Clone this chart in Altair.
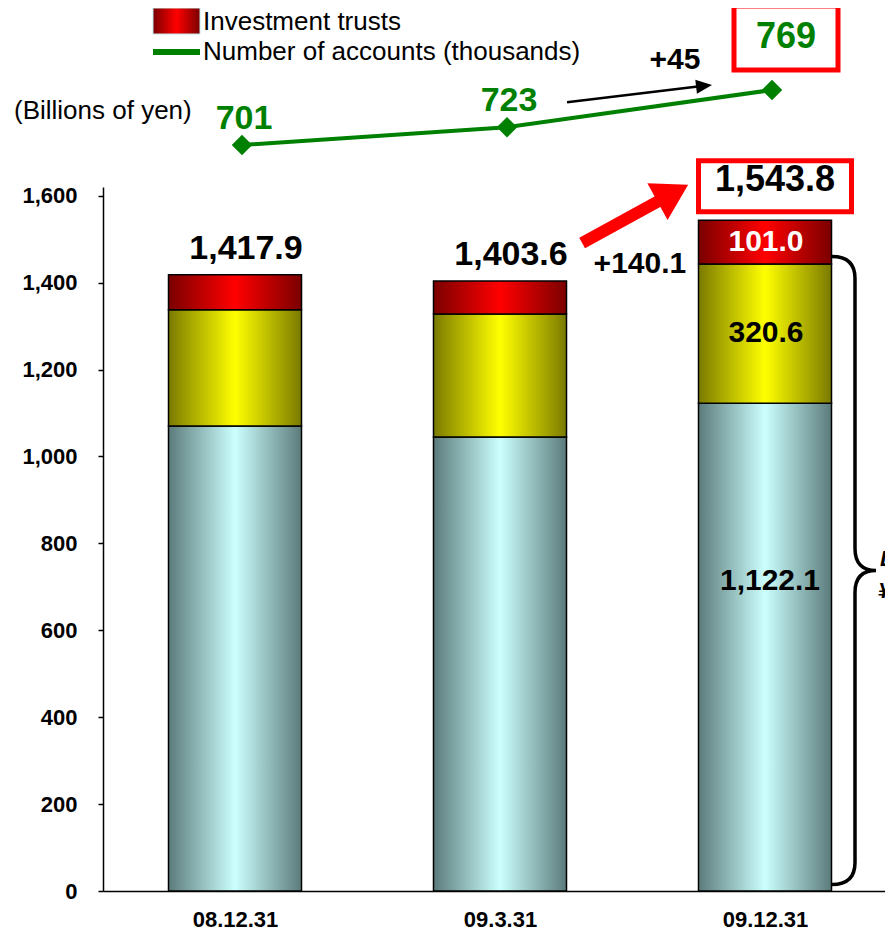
import math
import json
import altair as alt
import pandas as pd

# ---------------- data ----------------
dates = ["08.12.31", "09.3.31", "09.12.31"]
yen_deposits = [1070.0, 1045.0, 1122.1]        # light blue segment
fx_deposits = [267.5, 283.0, 320.6]            # yellow segment
investment_trusts = [80.4, 75.6, 101.0]        # red segment
total_labels = ["1,417.9", "1,403.6", "1,543.8"]
accounts = [701, 723, 769]
account_labels = ["701", "723", "769"]
segment_labels = ["1,122.1", "320.6", "101.0"]
legend_labels = ["Investment trusts", "Number of accounts (thousands)"]
unit_label = "(Billions of yen)"
delta_total = "+140.1"
delta_accounts = "+45"
brace_labels = ["Deposits", "¥1,442.7 billion"]

# annotation anchors (category index, value in billions of yen)
red_arrow_i = [1.31, 1.71]
red_arrow_v = [1491.0, 1625.0]
black_arrow_i = [1.253, 1.80]
black_arrow_v = [1815.0, 1855.0]
delta_total_pos = (1.528, 1442.0)
delta_acc_pos = (1.66, 1912.0)
brace_span = (15.0, 1460.0)

# ---------------- layout ----------------
FONT = "Liberation Sans"
W, H = 782, 704
YMAX = 1620
STEP = 265
X0 = 132
XD = [-X0 / STEP, (W - X0) / STEP]
KY = H / YMAX
ACC_D = [-221.3, 649.07]
GREEN = "#008000"

xaxis = alt.Axis(values=[0, 1, 2], labelExpr=f"{json.dumps(dates)}[datum.value]",
                 ticks=False, grid=False, domainColor="black", domainWidth=1.5,
                 labelFont=FONT, labelFontSize=22, labelFontWeight="bold",
                 labelColor="black", labelPadding=18, labelFlush=False,
                 labelOverlap=False, title=None)
yaxis = alt.Axis(values=list(range(0, 1601, 200)), format=",d", grid=False,
                 ticks=True, tickSize=5, tickColor="black", tickWidth=1.5,
                 domainColor="black", domainWidth=1.5, labelFont=FONT,
                 labelFontSize=22, labelFontWeight="bold", labelColor="black",
                 labelPadding=21, labelFlush=False, title=None)
XS = alt.Scale(domain=XD, nice=False, zero=False, padding=0)
YS = alt.Scale(domain=[0, YMAX], nice=False, zero=False)
AS = alt.Scale(domain=ACC_D, nice=False, zero=False)


def X(f="i"):
    return alt.X(f"{f}:Q", scale=XS, axis=xaxis)


def Y(f):
    return alt.Y(f"{f}:Q", scale=YS, axis=yaxis)


def YA(f):
    return alt.Y(f"{f}:Q", scale=AS, axis=None)


def grad(dark, light):
    return alt.Gradient(gradient="linear", x1=0, x2=1, y1=0, y2=0,
                        stops=[alt.GradientStop(color=dark, offset=0),
                               alt.GradientStop(color=light, offset=0.5),
                               alt.GradientStop(color=dark, offset=1)])


CYAN = grad("#5c7b7b", "#ccffff")
YEL = grad("#7a7a00", "#ffff00")
RED = grad("#7a0000", "#ff0000")

c1 = yen_deposits
c2 = [a + b for a, b in zip(yen_deposits, fx_deposits)]
c3 = [a + b for a, b in zip(c2, investment_trusts)]
df = pd.DataFrame({"i": [0, 1, 2], "date": dates, "z": [0, 0, 0],
                   "c1": c1, "c2": c2, "c3": c3, "tot": total_labels})


def seg(lo, hi, fill):
    return alt.Chart(df).mark_bar(width=133, fill=fill, stroke="black",
                                  strokeWidth=1.5).encode(
        x=X(), y=Y(lo), y2=alt.Y2(hi))


bars = [seg("z", "c1", CYAN), seg("c1", "c2", YEL), seg("c2", "c3", RED)]

tot_text = alt.Chart(df[df.i < 2]).mark_text(
    font=FONT, fontSize=34, fontWeight="bold", color="black", dx=11, dy=-26,
    baseline="middle").encode(x=X(), y=Y("c3"), text="tot:N")

last = df[df.i == 2]
tot_box_text = alt.Chart(last).mark_text(
    font=FONT, fontSize=36, fontWeight="bold", color="black", dx=10, dy=-40,
    baseline="middle").encode(x=X(), y=Y("c3"), text="tot:N")
tot_box = alt.Chart(last).mark_point(
    shape="M-1,-0.3333H1V0.3333H-1Z", size=153 ** 2, filled=False,
    stroke="red", strokeWidth=5, opacity=1, xOffset=10, yOffset=-34).encode(
    x=X(), y=Y("c3"))

seg_df = pd.DataFrame({
    "i": [2, 2, 2],
    "mid": [c1[2] / 2, (c1[2] + c2[2]) / 2, (c2[2] + c3[2]) / 2],
    "lab": segment_labels,
})
seg_red = alt.Chart(seg_df.iloc[[2]]).mark_text(
    font=FONT, fontSize=30, fontWeight="bold", color="white", dx=1,
    baseline="middle").encode(x=X(), y=Y("mid"), text="lab:N")
seg_yel = alt.Chart(seg_df.iloc[[1]]).mark_text(
    font=FONT, fontSize=30, fontWeight="bold", color="black", dx=1, dy=-1,
    baseline="middle").encode(x=X(), y=Y("mid"), text="lab:N")
seg_cyan = alt.Chart(seg_df.iloc[[0]]).mark_text(
    font=FONT, fontSize=30, fontWeight="bold", color="black", dx=5, dy=-66,
    baseline="middle").encode(x=X(), y=Y("mid"), text="lab:N")


# ---- arrows ----
def arrow(ii, vv, color, width, back, head_path, head_size):
    dxp = (ii[1] - ii[0]) * STEP
    dyp = -(vv[1] - vv[0]) * KY
    L = math.hypot(dxp, dyp)
    ux, uy = dxp / L, dyp / L
    end_i = ii[1] - ux * back / STEP
    end_v = vv[1] + uy * back / KY
    ang = math.degrees(math.atan2(dyp, dxp)) % 360
    shaft_df = pd.DataFrame({"i": [ii[0], end_i], "v": [vv[0], end_v]})
    head_df = pd.DataFrame({"i": [ii[1]], "v": [vv[1]]})
    shaft = alt.Chart(shaft_df).mark_line(color=color, strokeWidth=width,
                                          strokeCap="butt").encode(x=X(), y=Y("v"))
    head = alt.Chart(head_df).mark_point(shape=head_path, size=head_size,
                                         filled=True, fill=color, stroke=color,
                                         strokeWidth=0, opacity=1,
                                         angle=ang).encode(x=X(), y=Y("v"))
    return [shaft, head]


red_arrow = arrow(red_arrow_i, red_arrow_v, "#ff0000", 12, 20,
                  "M0,0L-2,-1.2L-2,1.2Z", 35 ** 2)
black_arrow = arrow(black_arrow_i, black_arrow_v, "black", 2.5, 8,
                    "M0,0L-2,-0.875L-2,0.875Z", 16 ** 2)

delta_t = alt.Chart(pd.DataFrame({"i": [delta_total_pos[0]], "v": [delta_total_pos[1]],
                                  "t": [delta_total]})).mark_text(
    font=FONT, fontSize=30, fontWeight="bold", color="black",
    baseline="middle").encode(x=X(), y=Y("v"), text="t:N")
delta_a = alt.Chart(pd.DataFrame({"i": [delta_acc_pos[0]], "v": [delta_acc_pos[1]],
                                  "t": [delta_accounts]})).mark_text(
    font=FONT, fontSize=30, fontWeight="bold", color="black",
    baseline="middle").encode(x=X(), y=Y("v"), text="t:N")

# ---- brace ----
b_lo, b_hi = brace_span
b_px = (b_hi - b_lo) * KY
b_r = b_px / 2
lx = -23 / b_r
tx = 21 / b_r
cr = 22 / b_r
brace_path = (f"M{lx:.4f},-1Q0,-1 0,{-1 + cr:.4f}L0,{-cr:.4f}Q0,0 {tx:.4f},0"
              f"Q0,0 0,{cr:.4f}L0,{1 - cr:.4f}Q0,1 {lx:.4f},1")
brace_df = pd.DataFrame({"i": [2], "v": [(b_lo + b_hi) / 2],
                         "t1": [brace_labels[0]], "t2": [brace_labels[1]]})
brace = alt.Chart(brace_df).mark_point(
    shape=brace_path, size=b_px ** 2, filled=False, stroke="black",
    strokeWidth=3.5, opacity=1, xOffset=90).encode(x=X(), y=Y("v"))
brace_t1 = alt.Chart(brace_df).mark_text(
    font=FONT, fontSize=22, fontWeight="bold", fontStyle="italic", color="black",
    align="left", baseline="middle", dx=115, dy=-12).encode(x=X(), y=Y("v"), text="t1:N")
brace_t2 = alt.Chart(brace_df).mark_text(
    font=FONT, fontSize=22, fontWeight="bold", fontStyle="italic", color="black",
    align="left", baseline="middle", dx=113, dy=20).encode(x=X(), y=Y("v"), text="t2:N")

# ---- legend & unit ----
one = pd.DataFrame({"a": [0]})
leg_red = alt.Chart(one).mark_rect(fill=RED, stroke="#bfe9e9", strokeWidth=1).encode(
    x=alt.value(50), x2=alt.value(97), y=alt.value(-179), y2=alt.value(-153))
leg_red_t = alt.Chart(pd.DataFrame({"t": [legend_labels[0]]})).mark_text(
    font=FONT, fontSize=26, color="black", align="left", baseline="middle").encode(
    x=alt.value(100), y=alt.value(-165), text="t:N")
leg_green = alt.Chart(one).mark_rule(color=GREEN, strokeWidth=6).encode(
    x=alt.value(50), x2=alt.value(97), y=alt.value(-135))
leg_green_t = alt.Chart(pd.DataFrame({"t": [legend_labels[1]]})).mark_text(
    font=FONT, fontSize=26, color="black", align="left", baseline="middle").encode(
    x=alt.value(100), y=alt.value(-135), text="t:N")
unit_t = alt.Chart(pd.DataFrame({"t": [unit_label]})).mark_text(
    font=FONT, fontSize=26, color="black", align="left", baseline="middle").encode(
    x=alt.value(-89), y=alt.value(-76), text="t:N")

main = alt.layer(*bars, tot_text, tot_box, tot_box_text, seg_red, seg_yel, seg_cyan,
                 *red_arrow, *black_arrow, delta_t, delta_a, brace, brace_t1, brace_t2,
                 leg_red, leg_red_t, leg_green, leg_green_t, unit_t)

# ---- accounts line ----
acc_df = pd.DataFrame({"i": [0, 1, 2], "acc": accounts, "lab": account_labels})
acc_line = alt.Chart(acc_df).mark_line(color=GREEN, strokeWidth=4, xOffset=7).encode(
    x=X(), y=YA("acc"))
acc_pts = alt.Chart(acc_df).mark_point(shape="diamond", filled=True, size=420,
                                       color=GREEN, opacity=1, xOffset=7).encode(
    x=X(), y=YA("acc"))
acc_lab = alt.Chart(acc_df[acc_df.i < 2]).mark_text(
    font=FONT, fontSize=34, fontWeight="bold", color=GREEN, dx=9, dy=-26,
    baseline="middle").encode(x=X(), y=YA("acc"), text="lab:N")
acc_box_t = alt.Chart(acc_df[acc_df.i == 2]).mark_text(
    font=FONT, fontSize=36, fontWeight="bold", color=GREEN, dx=21, dy=-53,
    baseline="middle").encode(x=X(), y=YA("acc"), text="lab:N")
acc_box = alt.Chart(acc_df[acc_df.i == 2]).mark_point(
    shape="M-1,-0.615H1V0.615H-1Z", size=104 ** 2, filled=False, stroke="red",
    strokeWidth=5, opacity=1, xOffset=21, yOffset=-52).encode(x=X(), y=YA("acc"))

acc = alt.layer(acc_line, acc_pts, acc_lab, acc_box, acc_box_t)

chart = alt.layer(main, acc).resolve_scale(y="independent").properties(
    width=W, height=H,
    padding={"left": 95, "top": 179, "right": 0, "bottom": 40},
    autosize=alt.AutoSizeParams(type="none"),
    background="white",
).configure_view(stroke=None)

chart.save("out.html", embed_options={"renderer": "svg", "actions": False})
